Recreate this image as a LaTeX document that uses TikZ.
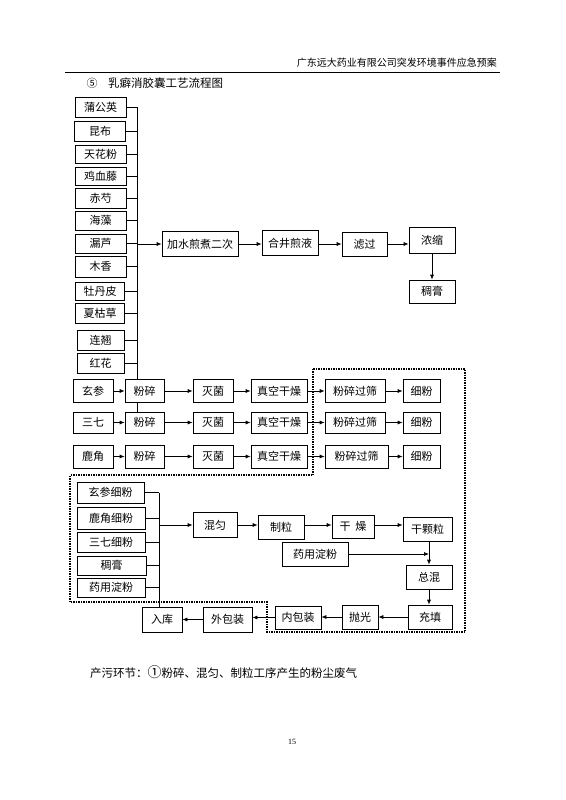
\documentclass[tikz,border=0pt]{standalone}
\usepackage{fontspec}
\newfontfamily\cjk{Noto Sans CJK SC}
\newfontfamily\numfont{Liberation Serif}
\usetikzlibrary{arrows.meta}
\tikzset{
  bx/.style={draw, line width=0.7pt, inner sep=0pt, fill=white, font=\cjk\fontsize{11}{11}\selectfont},
  ar/.style={-{Latex[length=5pt,width=4pt]}, line width=0.7pt},
  ln/.style={line width=0.7pt},
  dotline/.style={line width=2pt, dash pattern=on 1.5pt off 1pt},
}
\newcommand{\bxn}[6]{\node[bx, minimum width=#4pt, minimum height=#5pt] (#1) at (#2,#3) {#6};}
\begin{document}
\begin{tikzpicture}[x=1pt,y=-1pt]
\fill[white] (0,0) rectangle (565,800);
\useasboundingbox (0,0) rectangle (565,800);
% header
\node[anchor=east, font=\cjk\fontsize{10}{10}\selectfont, inner sep=0pt] (hdr) at (497,63) {广东远大药业有限公司突发环境事件应急预案};
\coordinate (hl1) at (65,72);
\coordinate (hl2) at (500,72);
\draw[line width=0.8pt] (hl1) -- (hl2);
\node[font=\cjk\fontsize{11}{11}\selectfont, inner sep=0pt] (num5) at (92,83) {⑤};
\node[anchor=west, font=\cjk\fontsize{11.5}{11.5}\selectfont, inner sep=0pt] (title) at (108,83) {乳癖消胶囊工艺流程图};
% herbs
\bxn{h1}{100.5}{107}{51}{20}{蒲公英}
\bxn{h2}{100}{131}{51}{20}{昆布}
\bxn{h3}{100.5}{154}{51}{18}{天花粉}
\bxn{h4}{100.5}{176}{51}{18}{鸡血藤}
\bxn{h5}{100.5}{198}{51}{20}{赤芍}
\bxn{h6}{100.5}{220.5}{51}{19}{海藻}
\bxn{h7}{100.5}{243.5}{51}{19}{漏芦}
\bxn{h8}{100.5}{266.5}{51}{21}{木香}
\bxn{h9}{100}{291}{49}{18}{牡丹皮}
\bxn{h10}{100}{313}{49}{20}{夏枯草}
\bxn{h11}{100.5}{340}{47}{20}{连翘}
\bxn{h12}{100.5}{363}{47}{20}{红花}
% top row
\bxn{A1}{200}{244}{76}{25}{加水煎煮二次}
\bxn{A2}{290}{243}{56}{25}{合井煎液}
\bxn{A3}{364.5}{244}{45}{24}{滤过}
\bxn{A4}{432}{240}{46}{26}{浓缩}
\bxn{A5}{432}{291.5}{46}{23}{稠膏}
% middle rows
\bxn{s1}{93}{391}{40}{23}{玄参}
\bxn{f1}{144.5}{391}{39}{23}{粉碎}
\bxn{m1}{213}{391}{40}{23}{灭菌}
\bxn{v1}{279}{391}{56}{23}{真空干燥}
\bxn{g1}{355}{391}{60}{23}{粉碎过筛}
\bxn{x1}{421.5}{391}{37}{23}{细粉}
\bxn{s2}{93}{422.5}{40}{21}{三七}
\bxn{f2}{144.5}{422.5}{39}{21}{粉碎}
\bxn{m2}{213}{422.5}{40}{21}{灭菌}
\bxn{v2}{279}{422.5}{56}{21}{真空干燥}
\bxn{g2}{355}{422.5}{60}{21}{粉碎过筛}
\bxn{x2}{421.5}{422.5}{37}{21}{细粉}
\bxn{s3}{93}{456.5}{40}{23}{鹿角}
\bxn{f3}{144.5}{456.5}{39}{23}{粉碎}
\bxn{m3}{213}{456.5}{40}{23}{灭菌}
\bxn{v3}{279}{456.5}{56}{23}{真空干燥}
\bxn{g3}{356.5}{456.5}{63}{23}{粉碎过筛}
\bxn{x3}{421.5}{456.5}{37}{23}{细粉}
% bottom section
\bxn{b1}{110.5}{492.5}{67}{21}{玄参细粉}
\bxn{b2}{111}{518}{68}{22}{鹿角细粉}
\bxn{b3}{111}{542}{68}{20}{三七细粉}
\bxn{b4}{111.5}{565.5}{69}{19}{稠膏}
\bxn{b5}{111}{587.5}{68}{19}{药用淀粉}
\bxn{mix}{215}{525}{44}{25}{混匀}
\bxn{gran}{281}{527}{46}{24}{制粒}
\bxn{dry}{353}{526.5}{42}{23}{干\ \ 燥}
\bxn{dg}{427.5}{529}{49}{24}{干颗粒}
\bxn{st}{315}{554}{66}{24}{药用淀粉}
\bxn{tot}{429}{577}{46}{24}{总混}
\bxn{fill}{430}{617}{44}{24}{充填}
\bxn{pol}{360}{617}{36}{24}{抛光}
\bxn{inn}{298}{617.5}{46}{23}{内包装}
\bxn{out}{227.5}{619.5}{49}{25}{外包装}
\bxn{rk}{162}{619.5}{40}{25}{入库}
% herb bus
\coordinate (bt) at (137,107);
\draw[ln] (bt) -- (bt |- f1.north);
\draw[ln] (bt |- f1.south) -- (bt |- f2.north);
\foreach \n in {h1,h2,h3,h4,h5,h6,h7,h8,h9,h10,h11,h12}{
  \draw[ln] (\n.east) -- (\n.east -| bt);
}
\draw[ar] (bt |- A1.west) -- (A1.west);
\draw[ar] (A1.east) -- (A1.east -| A2.west);
\draw[ar] (A1.east -| A2.east) -- (A1.east -| A3.west);
\draw[ar] (A1.east -| A3.east) -- (A1.east -| A4.west);
\draw[ar] (A4.south) -- (A5.north);
% middle rows arrows
\foreach \i in {1,2,3}{
  \draw[ar] (s\i.east) -- (f\i.west);
  \draw[ar] (f\i.east) -- (m\i.west);
  \draw[ar] (m\i.east) -- (v\i.west);
  \draw[ar] (v\i.east) -- (g\i.west);
  \draw[ar] (g\i.east) -- (x\i.west);
}
% bottom bus
\coordinate (bb) at (159,492.5);
\draw[ln] (bb) -- (bb |- rk.north);
\foreach \n in {b1,b2,b3,b4,b5}{
  \draw[ln] (\n.east) -- (\n.east -| bb);
}
\draw[ar] (bb |- mix.west) -- (mix.west);
\draw[ar] (mix.east) -- (mix.east -| gran.west);
\draw[ar] (mix.east -| gran.east) -- (mix.east -| dry.west);
\draw[ar] (mix.east -| dry.east) -- (mix.east -| dg.west);
\coordinate (vx) at (429,541);
\draw[ar] (vx |- dg.south) -- (vx |- tot.north);
\draw[ar] (st.east) -- (st.east -| vx);
\draw[ar] (vx |- tot.south) -- (vx |- fill.north);
\draw[ar] (fill.west) -- (fill.west -| pol.east);
\draw[ar] (pol.west) -- (pol.west -| inn.east);
\draw[ar] (inn.west) -- (inn.west -| out.east);
\draw[ar] (out.west) -- (out.west -| rk.east);
% dotted boundary
\draw[dotline] (313,369) -- (465,369) -- (465,632) -- (267,632) -- (267,602) -- (70,602) -- (70,475) -- (313,475) -- cycle;
% footer
\node[anchor=west, font=\cjk\fontsize{11.5}{11.5}\selectfont, inner sep=0pt] (foot) at (90,672) {产污环节：{\fontsize{14}{14}\selectfont ①}粉碎、混匀、制粒工序产生的粉尘废气};
\node[font=\numfont\fontsize{8}{8}\selectfont, inner sep=0pt] (pg) at (292,742) {15};
\end{tikzpicture}
\end{document}
